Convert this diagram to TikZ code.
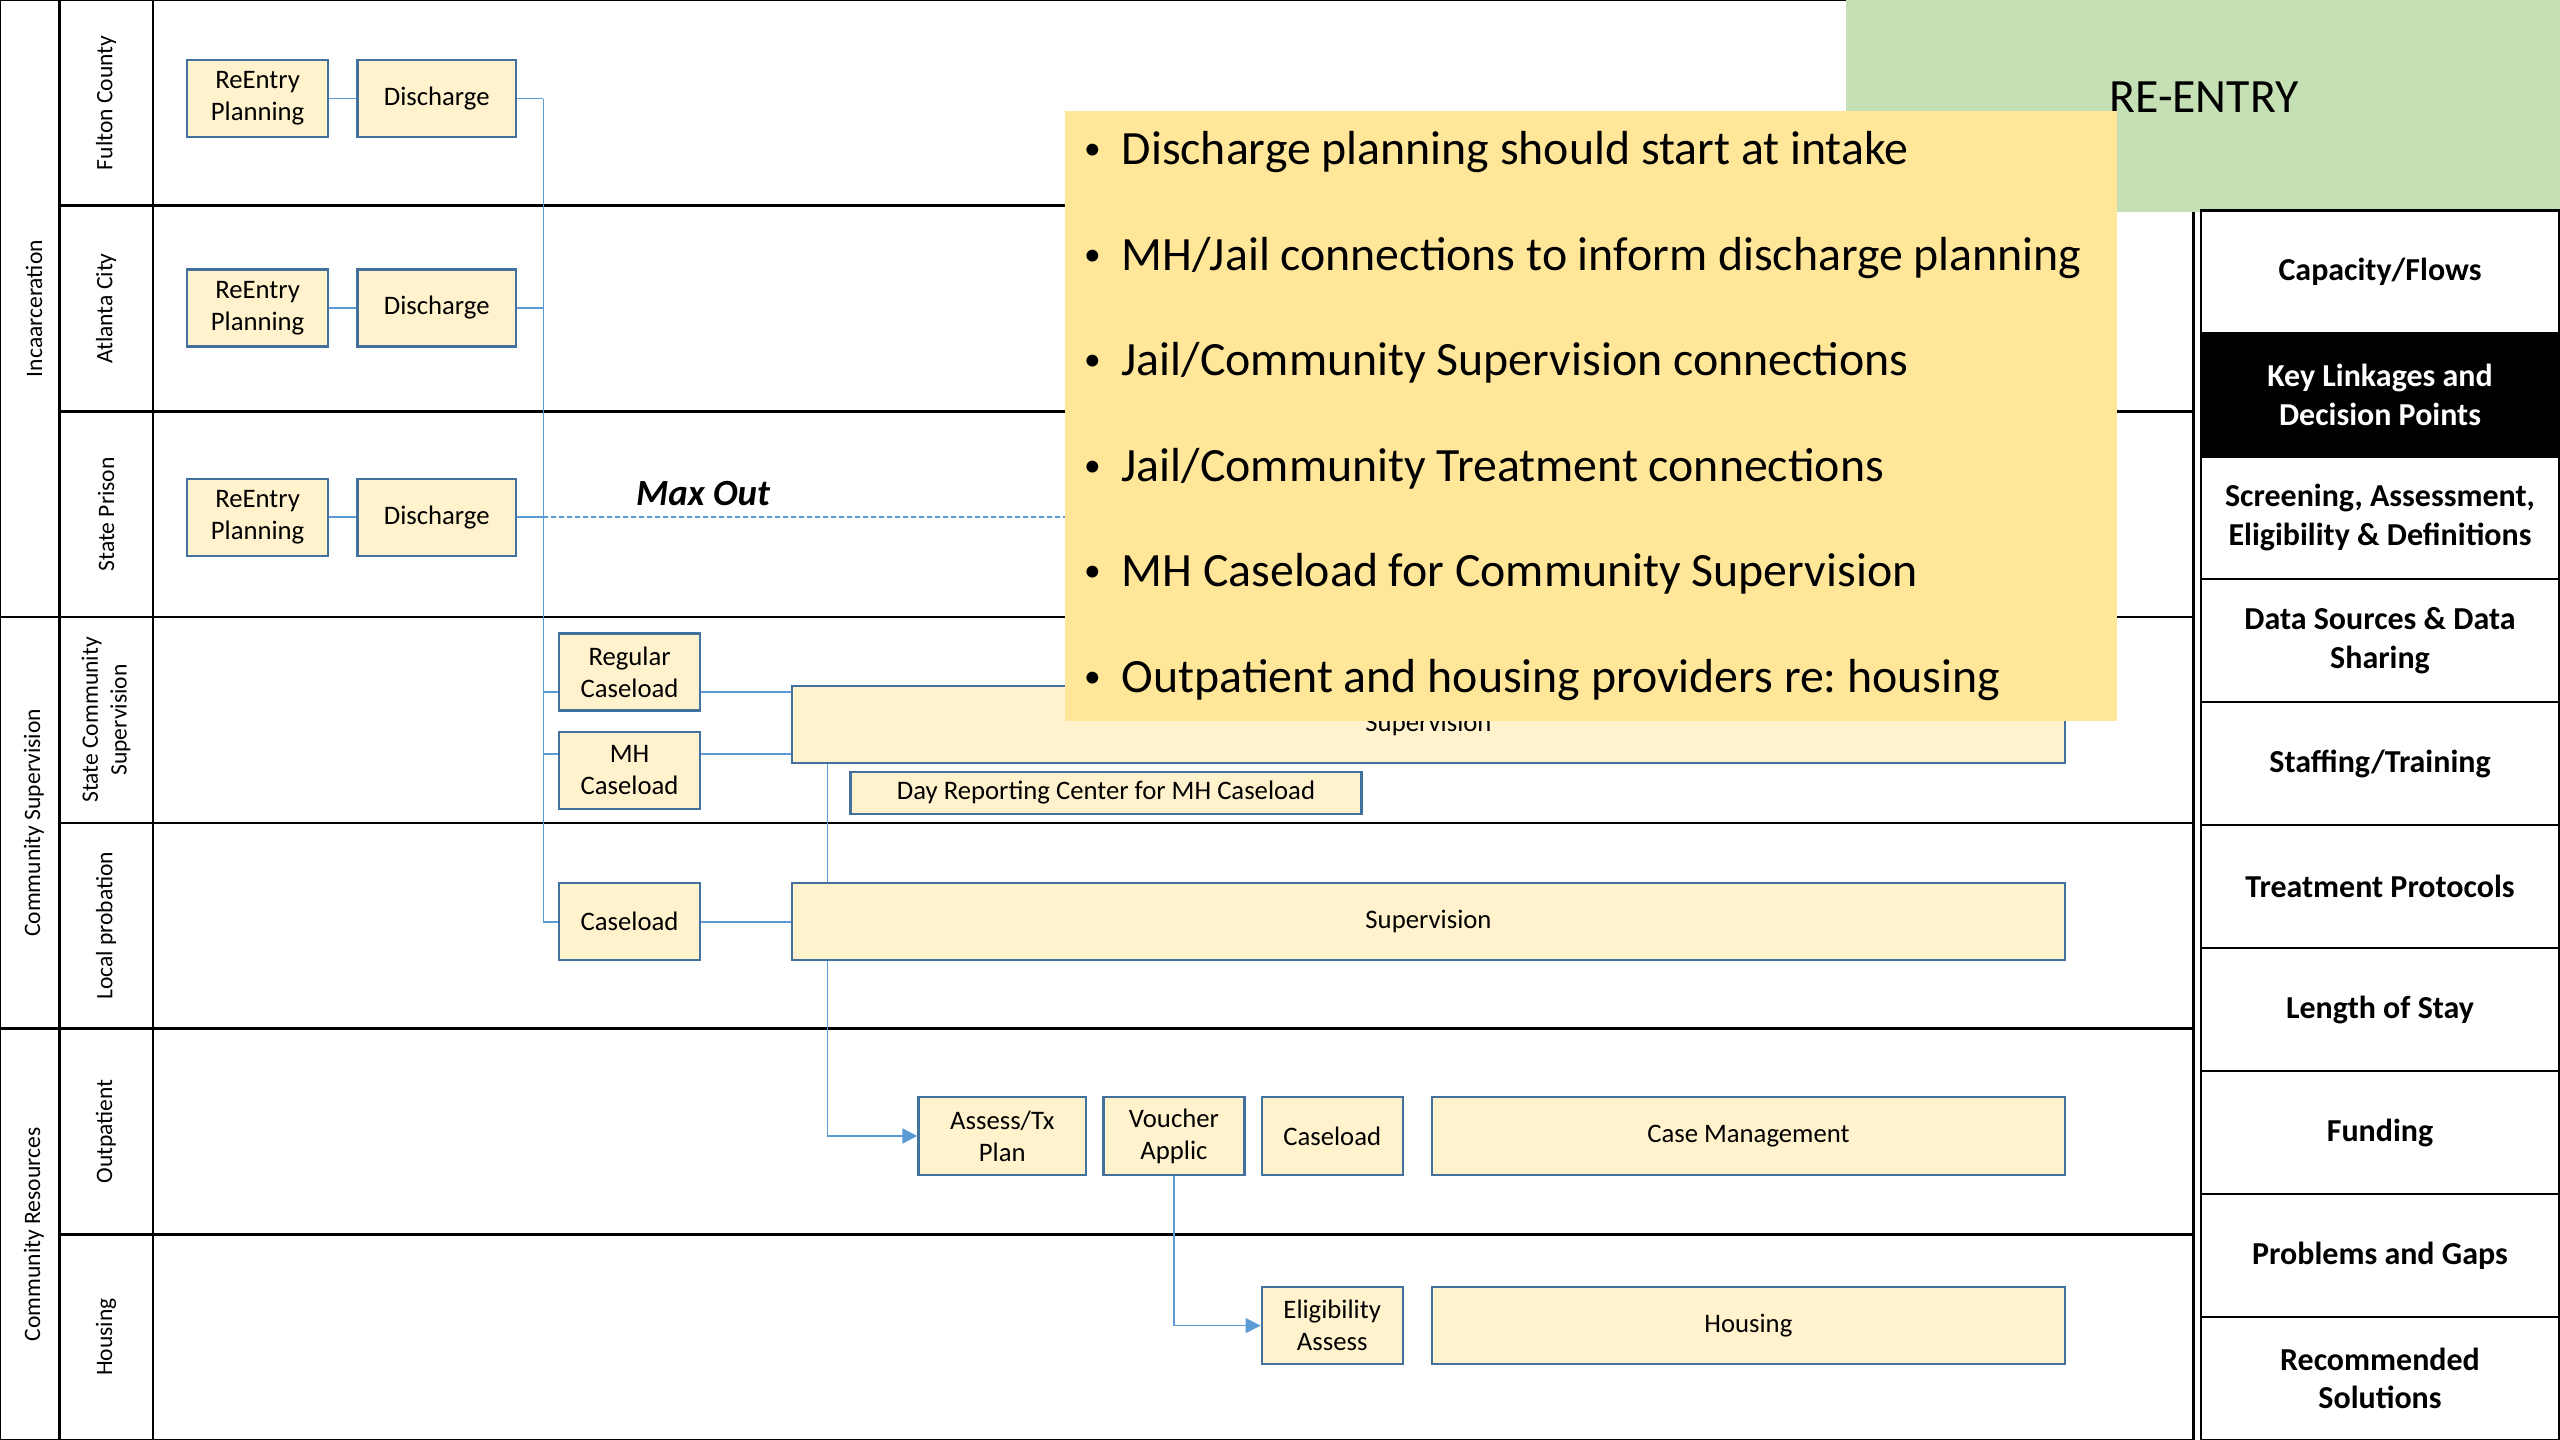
\documentclass[tikz,border=0pt]{standalone}
\usepackage{fontspec}
\setmainfont{Carlito}
\usetikzlibrary{arrows.meta}
\frenchspacing

\definecolor{boxfill}{HTML}{FFF2CC}
\definecolor{boxline}{HTML}{41719C}
\definecolor{linkblue}{HTML}{5B9BD5}
\definecolor{notefill}{HTML}{FFE699}
\definecolor{titlefill}{HTML}{C5E0B4}

\begin{document}
\begin{tikzpicture}[x=0.1mm, y=-0.1mm,
    flow/.style={draw=boxline, fill=boxfill, line width=0.65pt, inner sep=0pt,
      minimum width=14.1mm, minimum height=7.7mm, align=center,
      font=\fontsize{7.6}{9.1}\selectfont},
    link/.style={draw=linkblue, line width=0.45pt},
    arrowlink/.style={link, -{Triangle[length=1.5mm, width=1.5mm]}},
    lane/.style={rotate=90, align=center, font=\fontsize{6.7}{8.2}\selectfont},
    grid/.style={line width=0.7pt},
    cell/.style={draw, line width=0.7pt, minimum width=35.8mm, minimum height=12.3mm,
      align=center, inner sep=0pt, font=\bfseries\fontsize{9.1}{11}\selectfont}
  ]
  \useasboundingbox (0,0) rectangle (2560,1440);

  % Define coordinates
  \coordinate (trunk) at (543.4,0);
  \coordinate (drop) at (827.3,0);
  \coordinate (maxend) at (1065,517.2);

  % Lanes
  \draw[grid] (0,0) rectangle (2193.5,1440);
  \draw[grid] (59.3,0) -- (59.3,1440);
  \draw[grid] (153,0) -- (153,1440);
  \foreach \y in {617.1,1028.6} \draw[grid] (0,\y) -- (2193.5,\y);
  \foreach \y in {205.7,411.4,822.9,1234.3} \draw[grid] (59.3,\y) -- (2193.5,\y);

  \foreach \t [count=\i] in {Fulton County, Atlanta City, State Prison,
      {State Community\\Supervision}, Local probation, Outpatient, Housing}
    \node[lane] (lane\i) at (106,{(\i-0.5)*205.71}) {\t};
  \node[lane] (grp1) at (34,308.6) {Incaarceration};
  \node[lane] (grp2) at (34,822.9) {Community Supervision};
  \node[lane] (grp3) at (34,1234.3) {Community Resources};

  % Title
  \fill[titlefill] (1846,0) rectangle (2560,212);
  \node[anchor=base, inner sep=0pt, font=\fontsize{13.6}{16}\selectfont] (reentry) at (2204,112.7) {RE-ENTRY};

  % Incarceration
  \foreach \y [count=\i] in {98.6,308,517.2} {
    \node[flow] (plan\i) at (257.6,\y) {ReEntry\\Planning};
    \node[flow, minimum width=15.85mm] (dis\i) at (436.7,\y) {Discharge};
    \draw[link] (plan\i) -- (dis\i);
    \draw[link] (dis\i.east) -- (dis\i.east -| trunk);
  }

  % Community supervision
  \node[flow] (reg) at (629.6,672) {Regular\\Caseload};
  \node[flow] (mh) at (629.6,770.2) {MH\\Caseload};
  \node[flow] (cl) at (629.6,921.8) {Caseload};
  \node[flow, minimum width=127.3mm] (sup1) at (1428.5,724.5) {Supervision};
  \node[flow, minimum width=127.3mm] (sup2) at (1428.5,921.8) {Supervision};
  \node[flow, minimum width=51.1mm, minimum height=4.17mm] (drc) at (1106,793) {Day Reporting Center for MH Caseload};

  \coordinate (regin) at ([yshift=-2mm]reg.west);
  \coordinate (regout) at ([yshift=-2mm]reg.east);
  \coordinate (mhin) at ([yshift=1.6mm]mh.west);
  \coordinate (mhout) at ([yshift=1.6mm]mh.east);

  \draw[link] (dis1.east -| trunk) -- (trunk |- cl.west) -- (cl.west);
  \draw[link] (regin -| trunk) -- (regin);
  \draw[link] (regout) -- (regout -| sup1.west);
  \draw[link] (mhin -| trunk) -- (mhin);
  \draw[link] (mhout) -- (mhout -| sup1.west);
  \draw[link] (cl) -- (sup2);
  \draw[link] (sup1.south -| drop) -- (sup2.north -| drop);

  % Community resources
  \node[flow, minimum width=16.75mm, minimum height=7.8mm] (asm) at (1002.3,1136) {Assess/Tx\\Plan};
  \node[flow, minimum height=7.8mm] (vch) at (1173.9,1136) {Voucher\\Applic};
  \node[flow, minimum height=7.8mm] (ocl) at (1332.2,1136) {Caseload};
  \node[flow, minimum width=63.3mm, minimum height=7.8mm] (cm) at (1748.4,1136) {Case Management};
  \node[flow] (elg) at (1332.2,1325.6) {Eligibility\\Assess};
  \node[flow, minimum width=63.3mm] (hsg) at (1748.4,1325.6) {Housing};

  \draw[arrowlink] (sup2.south -| drop) |- (asm);
  \draw[arrowlink] (vch.south) |- (elg);

  % Max out
  \draw[link, dash pattern=on 0.5mm off 0.3mm] (dis3.east -| trunk) -- (maxend);
  \node[anchor=base, inner sep=0pt, font=\bfseries\itshape\fontsize{10.5}{12}\selectfont] (maxout) at (703,505.7) {Max Out};

  % Key linkages
  \fill[notefill] (1065,111) rectangle (2117,721);
  \foreach \t [count=\i] in {Discharge planning should start at intake,
      MH/Jail connections to inform discharge planning,
      Jail/Community Supervision connections,
      Jail/Community Treatment connections,
      MH Caseload for Community Supervision,
      Outpatient and housing providers re: housing}
    \node[anchor=base west, inner sep=0pt, font=\fontsize{13.6}{16}\selectfont] (note\i)
      at (1121,{165+(\i-1)*105.5})
      {\llap{\raisebox{0.5mm}{\scalebox{0.7}{\textbullet}}\hspace{2.1mm}}\t};

  % Side panel
  \draw[grid] (2201,210.4) -- (2201,1440);
  \foreach \t [count=\k] in {Capacity/Flows, {Key Linkages and\\Decision Points},
      {Screening, Assessment,\\Eligibility \& Definitions}, {Data Sources \& Data\\Sharing},
      Staffing/Training, Treatment Protocols, Length of Stay, Funding,
      Problems and Gaps, {Recommended\\Solutions}} {
    \ifnum\k=2 \def\cf{black}\def\ct{white}\else\def\cf{white}\def\ct{black}\fi
    \node[cell, fill=\cf, text=\ct] (side\k) at (2380,{210.4+(\k-0.5)*122.96}) {\t};
  }

\end{tikzpicture}
\end{document}
